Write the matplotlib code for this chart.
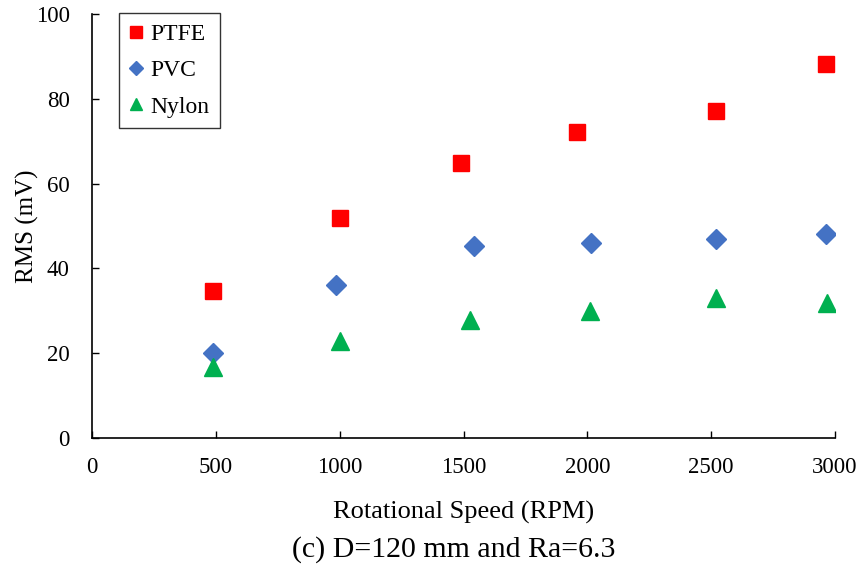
import numpy as np
import matplotlib
matplotlib.use("Agg")
import matplotlib.pyplot as plt

plt.rcParams['font.family'] = ['Liberation Serif', 'DejaVu Serif']

# rotational speed (RPM) and RMS voltage (mV)
speed_ptfe = [490, 1000, 1490, 1960, 2520, 2965]
rms_ptfe = [34.7, 52.0, 64.9, 72.2, 77.1, 88.2]

speed_pvc = [490, 985, 1543, 2015, 2520, 2965]
rms_pvc = [20.0, 36.1, 45.3, 46.0, 46.9, 48.1]

speed_nylon = [490, 1002, 1527, 2011, 2520, 2969]
rms_nylon = [16.7, 22.9, 27.8, 30.0, 33.0, 31.8]

xticks = [0, 500, 1000, 1500, 2000, 2500, 3000]
yticks = [0, 20, 40, 60, 80, 100]

fig = plt.figure(figsize=(8.6, 5.73), dpi=100)
ax = fig.add_axes([0.107, 0.2356, 0.864, 0.74])

ax.plot(speed_ptfe, rms_ptfe, 's', color='#ff0000', markersize=12, label='PTFE')
ax.plot(speed_pvc, rms_pvc, 'D', color='#4472c4', markersize=10, label='PVC')
ax.plot(speed_nylon, rms_nylon, '^', color='#00b050', markersize=12.5, label='Nylon')

ax.set_xlim(0, 3000)
ax.set_ylim(0, 100)
ax.set_xticks(xticks)
ax.set_yticks(yticks)
ax.tick_params(direction='in', length=5, width=1, labelsize=16.5)
ax.tick_params(axis='x', pad=14)
ax.tick_params(axis='y', pad=16)
for s in ['top', 'right']:
    ax.spines[s].set_visible(False)
for s in ['left', 'bottom']:
    ax.spines[s].set_linewidth(1.2)

ax.set_xlabel('Rotational Speed (RPM)', fontsize=19, labelpad=16)
ax.set_ylabel('RMS (mV)', fontsize=18, labelpad=-2)

leg = ax.legend(loc='upper left', bbox_to_anchor=(0.036, 1.002), fontsize=17,
                frameon=True, fancybox=False, edgecolor='black',
                markerscale=0.7, handlelength=0.6, handletextpad=0.3,
                labelspacing=0.62, borderpad=0.45, borderaxespad=0)
leg.get_frame().set_linewidth(1.0)

fig.text(0.527, 0.028, '(c) D=120 mm and Ra=6.3', ha='center', fontsize=21.5)

fig.savefig('out.png', dpi=100)
